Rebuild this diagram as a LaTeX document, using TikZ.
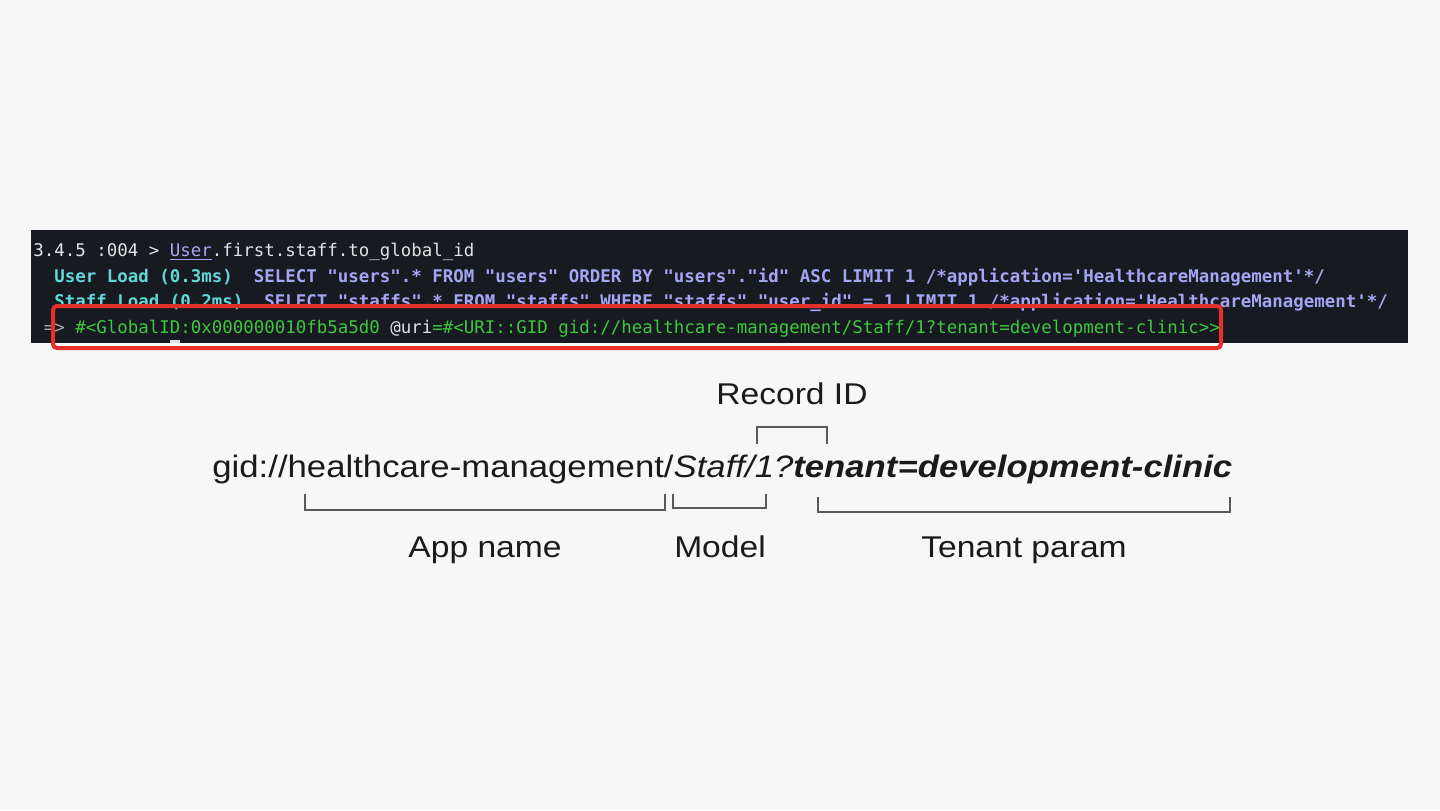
\documentclass[tikz,border=0pt]{standalone}
\usepackage{fontspec}
\setmainfont{Liberation Sans}
\newfontfamily\wide[FakeStretch=1.12]{Liberation Sans}
\newfontfamily\term{DejaVu Sans Mono}
\definecolor{bg}{HTML}{F7F7F7}
\definecolor{panel}{HTML}{171A21}
\definecolor{tred}{HTML}{E5302A}
\definecolor{twhite}{HTML}{E2E2E2}
\definecolor{tlav}{HTML}{A3A6F2}
\definecolor{tcyan}{HTML}{5FD8D8}
\definecolor{tgreen}{HTML}{3EC83E}
\definecolor{tgray}{HTML}{A8A8A8}
\definecolor{ink}{HTML}{1A1A1A}
\definecolor{brk}{HTML}{5A5A5A}
\tikzset{
  termline/.style={anchor=base west, inner sep=0pt, font=\term\fontsize{8.72}{10}\selectfont},
  label/.style={anchor=base, inner sep=0pt, text=ink, font=\wide\fontsize{15}{17}\selectfont},
  bracket/.style={draw=brk, line width=0.8pt},
}
\begin{document}
\begin{tikzpicture}[x=0.5pt,y=-0.5pt]
\fill[bg] (0,0) rectangle (1440,810);
\useasboundingbox (0,0) rectangle (1440,810);
% terminal panel
\fill[panel] (31,230) rectangle (1408,343);
\node[termline] (l1) at (33,256) {\textcolor{twhite}{3.4.5 :004 > }\textcolor{tlav}{\underline{User}}\textcolor{twhite}{.first.staff.to\_global\_id}};
\node[termline] (l2) at (33,282) {\textcolor{tcyan}{\bfseries\ \ User Load (0.3ms)}\textcolor{tlav}{\bfseries\ \ SELECT "users".* FROM "users" ORDER BY "users"."id" ASC LIMIT 1 /*application='HealthcareManagement'*/}};
\node[termline] (l3) at (33,307) {\textcolor{tcyan}{\bfseries\ \ Staff Load (0.2ms)}\textcolor{tlav}{\bfseries\ \ SELECT "staffs".* FROM "staffs" WHERE "staffs"."user\_id" = 1 LIMIT 1 /*application='HealthcareManagement'*/}};
\node[termline] (l4) at (33,333) {\textcolor{tgray}{\ => }\textcolor{tgreen}{\#<GlobalID:0x000000010fb5a5d0 }\textcolor{twhite}{@uri}\textcolor{tgreen}{=\#<URI::GID gid://healthcare-management/Staff/1?tenant=development-clinic>>}};
\fill[twhite] (170,340) rectangle (180,343);
% red highlight
\node[draw=tred, line width=2pt, rounded corners=2pt, minimum width=584pt, minimum height=21pt, inner sep=0pt] (hl) at (637,327) {};
% main gid
\node[anchor=base west, inner sep=0pt, text=ink, font=\wide\fontsize{15.5}{18}\selectfont] (gid) at (212,477)
  {gid://healthcare-management/\textit{Staff/1?}\textbf{\textit{tenant=development-clinic}}};
% labels
\node[label] (rec) at (792,404) {Record ID};
\node[label] (app) at (485,557) {App name};
\node[label] (mod) at (720,557) {Model};
\node[label] (ten) at (1024,557) {Tenant param};
% brackets
\coordinate (a1) at (305,494); \coordinate (a2) at (665,494);
\coordinate (m1) at (673,494); \coordinate (m2) at (766,494);
\coordinate (t1) at (818,497); \coordinate (t2) at (1230,497);
\coordinate (r1) at (757,444); \coordinate (r2) at (827,444);
\draw[bracket] (a1) |- (485,510) -| (a2);
\draw[bracket] (m1) |- (720,508) -| (m2);
\draw[bracket] (t1) |- (1024,512) -| (t2);
\draw[bracket] (r1) |- (792,427) -| (r2);
\end{tikzpicture}
\end{document}
